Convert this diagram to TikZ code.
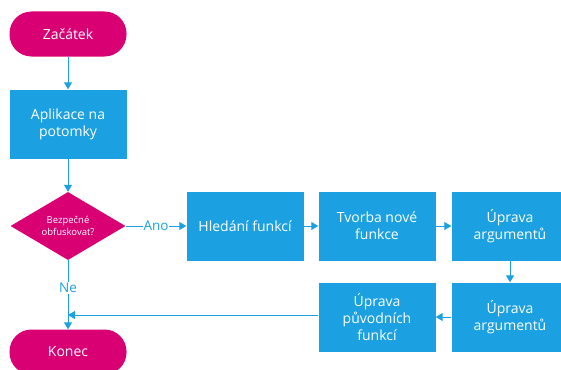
\documentclass[tikz,border=0pt]{standalone}
\usepackage{fontspec}
\setmainfont{Open Sans}
\usepackage{xcolor}
\usetikzlibrary{arrows.meta}
\usetikzlibrary{shapes.geometric}

\definecolor{metroblue}{HTML}{1BA1E2}
\definecolor{metropink}{HTML}{D80073}

\begin{document}
\begin{tikzpicture}[x=1pt,y=-1pt,
  terminal/.style={fill=metropink,rounded corners=22pt,minimum width=117pt,minimum height=45pt,text=white,font=\fontsize{14}{16}\selectfont},
  process/.style={fill=metroblue,minimum width=117pt,minimum height=69pt,text=white,align=center,font=\fontsize{14}{17}\selectfont},
  decision/.style={diamond,fill=metropink,aspect=1.7,minimum width=115pt,minimum height=68pt,inner sep=0pt,text=white,align=center,font=\fontsize{9.5}{12.5}\selectfont},
  flow/.style={draw=metroblue,line width=1pt,-{Triangle[width=8pt,length=7pt]}},
  lbl/.style={fill=white,text=metroblue,inner sep=1pt,font=\fontsize{13.5}{15}\selectfont}]
\clip (0,0) rectangle (561,369);
\node[terminal] (start) at (68,34) {Začátek};
\node[process] (apply) at (68,124) {Aplikace na\\potomky};
\node[decision] (safe) at (68,226) {Bezpečné\\obfuskovat?};
\node[process] (search) at (245,226) {Hledání funkcí};
\node[process] (create) at (377,226) {Tvorba nové\\funkce};
\node[process] (args1) at (510,226) {Úprava\\argumentů};
\node[process] (args2) at (510,317) {Úprava\\argumentů};
\node[process] (orig) at (377,317) {Úprava\\původních\\funkcí};
\node[terminal] (stop) at (68,352) {Konec};
\coordinate (join) at (68,315);

\draw[flow] (start) -- (apply);
\draw[flow] (apply) -- (safe);
\draw[flow] (safe) -- node[lbl] {Ano} (search);
\draw[flow] (search) -- (create);
\draw[flow] (create) -- (args1);
\draw[flow] (args1) -- (args2);
\draw[flow] (args2) -- (orig);
\draw[flow] (orig.west |- join) -- (join);
\draw[flow] (safe) -- node[lbl,pos=0.4] {Ne} (stop);
\end{tikzpicture}
\end{document}
